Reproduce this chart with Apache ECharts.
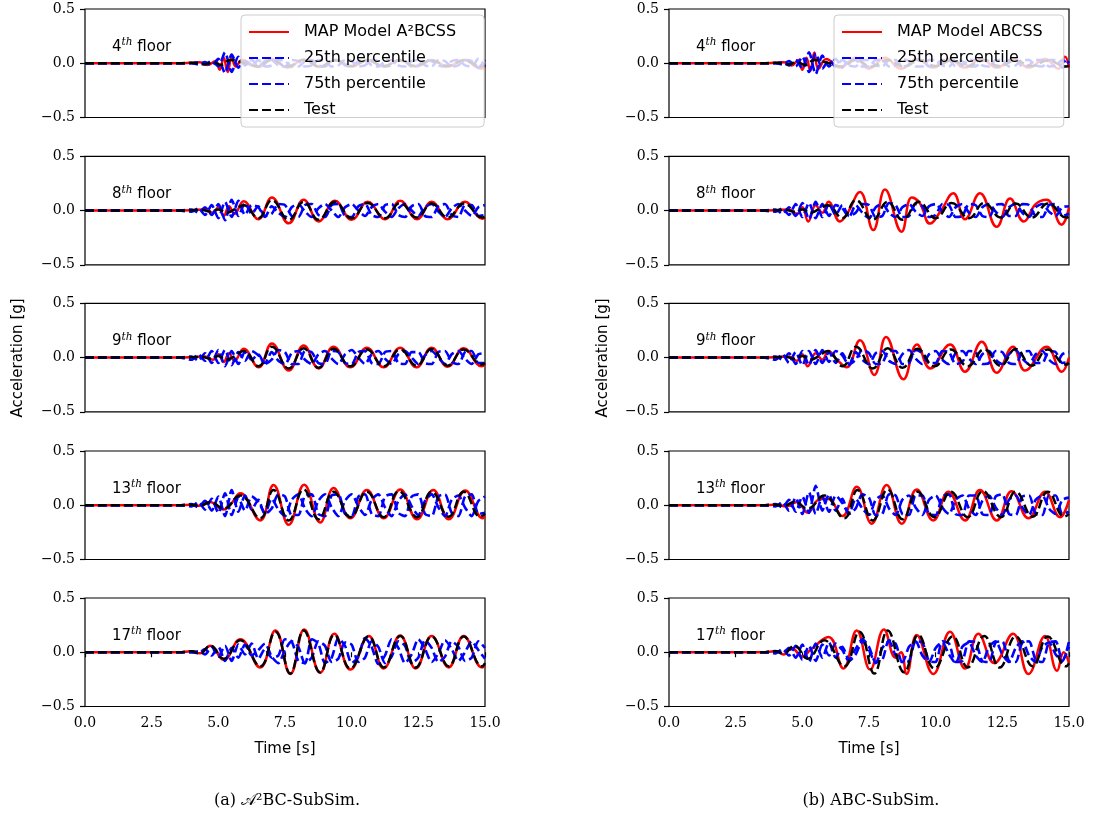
<!DOCTYPE html>
<html><head><meta charset="utf-8">
<script src="https://cdn.jsdelivr.net/npm/echarts@6/dist/echarts.min.js"></script>
<style>html,body{margin:0;padding:0;background:#fff}#c{width:1094px;height:819px}</style>
</head><body><div id="c"></div>
<script>
// ---------------- DATA ----------------
const floors = ['4', '8', '9', '13', '17'];
const mapNames = ['MAP Model A\u00b2BCSS', 'MAP Model ABCSS'];
const p25Name = '25th percentile';
const p75Name = '75th percentile';
const testName = 'Test';
const xTicks = [0, 2.5, 5, 7.5, 10, 12.5, 15];
const xTickLabels = ['0.0', '2.5', '5.0', '7.5', '10.0', '12.5', '15.0'];
const yTicks = [-0.5, 0, 0.5];
const yTickLabels = ['\u22120.5', '0.0', '0.5'];

// measured test signal (same for both columns), [time, accel]
const test4 = [[0,0],[3.5,0],[4.0,0.005],[4.5,-0.01],[4.8,0.01],[5.1,-0.015],[5.45,0.03],[6.0,0.0],[6.5,-0.03],[7.0,0.03],[7.6,-0.03],[8.2,0.03],[8.8,-0.03],[9.4,0.025],[10.0,-0.025],[10.6,0.025],[11.2,-0.025],[11.8,0.025],[12.4,-0.025],[13.0,0.025],[13.6,-0.025],[14.2,0.025],[14.9,-0.03],[15,-0.02]];
const test8 = [[0,0],[3.5,0],[4.0,0.003],[4.4,0.005],[4.7,-0.01],[5.0,0.01],[5.3,-0.02],[5.6,0.01],[5.95,0.05],[6.5,-0.07],[7.01,0.095],[7.64,-0.085],[8.2,0.08],[8.76,-0.085],[9.37,0.08],[10.0,-0.07],[10.6,0.07],[11.25,-0.07],[11.82,0.07],[12.45,-0.065],[13.0,0.066],[13.6,-0.065],[14.22,0.066],[14.9,-0.065],[15,-0.055]];
const test9 = [[0,0],[3.5,0],[4.0,0.003],[4.4,0.005],[4.7,-0.01],[5.0,0.015],[5.3,-0.02],[5.6,0.01],[5.95,0.06],[6.51,-0.08],[7.01,0.1],[7.64,-0.1],[8.2,0.085],[8.76,-0.095],[9.32,0.08],[9.95,-0.08],[10.57,0.075],[11.2,-0.08],[11.82,0.075],[12.43,-0.075],[13.0,0.078],[13.6,-0.075],[14.2,0.075],[14.88,-0.065],[15,-0.05]];
const test13 = [[0,0],[3.5,0],[4.0,0.005],[4.3,-0.005],[4.7,0.03],[5.2,-0.03],[5.82,0.09],[6.57,-0.12],[7.07,0.14],[7.64,-0.14],[8.2,0.145],[8.76,-0.13],[9.32,0.125],[9.95,-0.11],[10.57,0.125],[11.2,-0.11],[11.77,0.13],[12.45,-0.11],[13.0,0.125],[13.64,-0.105],[14.2,0.125],[14.83,-0.105],[15,-0.08]];
const test17 = [[0,0],[3.5,0],[4.0,0.01],[4.3,-0.01],[4.7,0.06],[5.2,-0.06],[5.82,0.11],[6.57,-0.13],[7.14,0.19],[7.7,-0.195],[8.2,0.2],[8.82,-0.185],[9.35,0.16],[9.95,-0.15],[10.64,0.145],[11.2,-0.14],[11.82,0.15],[12.4,-0.14],[13.0,0.145],[13.64,-0.13],[14.2,0.145],[14.89,-0.13],[15,-0.1]];

// MAP model A2BCSS (left column)
const mapL4 = [[0,0],[3.5,0],[4.0,0.005],[4.3,0.01],[4.6,-0.015],[4.9,0.02],[5.05,-0.06],[5.2,0.05],[5.35,-0.08],[5.5,0.06],[5.65,-0.03],[5.9,0.03],[6.5,-0.035],[7.0,0.04],[7.6,-0.04],[8.2,0.035],[8.8,-0.035],[9.4,0.03],[10.0,-0.03],[10.6,0.03],[11.2,-0.03],[11.8,0.03],[12.4,-0.03],[13.0,0.03],[13.6,-0.03],[14.2,0.03],[14.85,-0.05],[15,-0.03]];
const mapL8 = [[0,0],[3.5,0],[4.0,0.003],[4.5,0.01],[4.8,-0.02],[5.0,0.03],[5.2,-0.05],[5.4,0.04],[5.6,-0.03],[5.95,0.085],[6.5,-0.08],[7.01,0.12],[7.64,-0.118],[8.2,0.1],[8.76,-0.1],[9.37,0.09],[10.0,-0.085],[10.6,0.08],[11.25,-0.08],[11.82,0.09],[12.45,-0.08],[13.0,0.08],[13.6,-0.08],[14.25,0.08],[14.9,-0.075],[15,-0.06]];
const mapL9 = [[0,0],[3.5,0],[4.0,0.003],[4.5,0.01],[4.8,-0.02],[5.0,0.03],[5.2,-0.04],[5.4,0.04],[5.6,-0.03],[5.95,0.08],[6.51,-0.09],[7.01,0.13],[7.64,-0.12],[8.2,0.11],[8.76,-0.1],[9.32,0.1],[9.95,-0.09],[10.57,0.09],[11.2,-0.09],[11.82,0.09],[12.43,-0.09],[13.0,0.09],[13.6,-0.085],[14.2,0.085],[14.88,-0.08],[15,-0.06]];
const mapL13 = [[0,0],[3.5,0],[4.0,0.005],[4.3,-0.005],[4.7,0.03],[5.0,-0.02],[5.2,-0.04],[5.5,0.02],[5.82,0.11],[6.57,-0.14],[7.07,0.186],[7.64,-0.18],[8.22,0.19],[8.82,-0.16],[9.32,0.16],[9.95,-0.12],[10.57,0.14],[11.2,-0.12],[11.82,0.145],[12.45,-0.13],[13.06,0.14],[13.64,-0.13],[14.26,0.135],[14.92,-0.12],[15,-0.1]];
const mapL17 = [[0,0],[3.5,0],[4.0,0.01],[4.3,-0.01],[4.7,0.06],[5.2,-0.07],[5.82,0.12],[6.57,-0.14],[7.14,0.2],[7.7,-0.2],[8.22,0.21],[8.82,-0.19],[9.35,0.17],[9.95,-0.16],[10.64,0.15],[11.2,-0.15],[11.82,0.155],[12.4,-0.15],[13.0,0.15],[13.64,-0.14],[14.2,0.15],[14.89,-0.14],[15,-0.12]];

// MAP model ABCSS (right column)
const mapR4 = [[0,0],[3.5,0],[4.0,0.005],[4.3,0.01],[4.6,-0.02],[4.85,0.03],[5.0,-0.06],[5.15,0.05],[5.3,-0.07],[5.45,0.1],[5.6,-0.05],[5.9,0.04],[6.4,-0.04],[7.0,0.05],[7.5,-0.05],[8.1,0.05],[8.7,-0.05],[9.3,0.04],[9.9,-0.04],[10.5,0.04],[11.1,-0.04],[11.7,0.04],[12.3,-0.04],[12.9,0.04],[13.5,-0.04],[14.1,0.04],[14.6,-0.05],[14.85,0.06],[15,-0.04]];
const mapR8 = [[0,0],[3.5,0],[4.0,0.003],[4.5,0.01],[4.8,-0.03],[5.0,0.03],[5.22,-0.1],[5.5,0.05],[5.75,-0.02],[5.98,0.08],[6.41,-0.1],[6.7,-0.02],[7.16,0.17],[7.66,-0.18],[8.1,0.195],[8.72,-0.195],[9.1,0.12],[9.4,0.07],[9.79,-0.12],[10.2,0.0],[10.66,0.16],[11.1,-0.08],[11.66,0.16],[12.29,-0.15],[12.79,0.11],[13.3,-0.1],[13.75,0.06],[14.16,0.1],[14.72,-0.13],[15,0.03]];
const mapR9 = [[0,0],[3.5,0],[4.0,0.003],[4.5,0.01],[4.8,-0.03],[5.0,0.03],[5.2,-0.08],[5.5,0.04],[5.75,-0.02],[5.98,0.06],[6.3,-0.02],[6.66,-0.09],[7.16,0.16],[7.7,-0.16],[8.14,0.19],[8.79,-0.2],[9.3,0.12],[9.8,-0.1],[10.54,0.12],[11.1,-0.13],[11.73,0.145],[12.29,-0.14],[12.9,0.1],[13.35,-0.12],[14.16,0.1],[14.73,-0.13],[15,0.0]];
const mapR13 = [[0,0],[3.5,0],[4.0,0.005],[4.4,-0.01],[4.8,0.03],[5.2,-0.07],[5.6,0.05],[5.95,0.06],[6.5,-0.1],[7.04,0.17],[7.6,-0.17],[8.16,0.186],[8.73,-0.17],[9.29,0.145],[9.91,-0.14],[10.48,0.125],[11.1,-0.14],[11.66,0.14],[12.29,-0.14],[12.85,0.13],[13.48,-0.12],[14.1,0.125],[14.66,-0.11],[15,0.05]];
const mapR17 = [[0,0],[3.5,0],[4.0,0.01],[4.3,-0.02],[4.6,0.04],[5.0,-0.04],[5.3,0.02],[5.98,0.14],[6.54,-0.15],[7.04,0.2],[7.54,-0.16],[8.06,0.21],[8.5,-0.05],[8.7,0.0],[8.91,-0.2],[9.29,0.16],[9.91,-0.2],[10.54,0.19],[11.1,-0.15],[11.6,0.17],[12.2,-0.1],[12.9,0.17],[13.48,-0.2],[14.1,0.15],[14.55,-0.17],[14.8,0.0],[15,-0.1]];

// percentile sample times
const tP = [0,3.5,4.0,4.25,4.5,4.75,5.0,5.25,5.5,5.75,6.0,6.25,6.5,6.75,7.0,7.25,7.5,7.75,8.0,8.25,8.5,8.75,9.0,9.25,9.5,9.75,10.0,10.25,10.5,10.75,11.0,11.25,11.5,11.75,12.0,12.25,12.5,12.75,13.0,13.25,13.5,13.75,14.0,14.25,14.5,14.75,15.0];
// 25th / 75th percentile, left column
const L4a = [0,0,0.00,0.01,-0.01,0.02,-0.03,0.10,-0.08,0.06,-0.02,0.03,-0.03,0.02,0.03,-0.02,-0.03,0.03,0.02,-0.03,-0.02,0.03,0.02,-0.03,-0.02,0.03,0.02,-0.03,-0.02,0.03,0.02,-0.03,-0.02,0.03,0.02,-0.03,-0.02,0.03,0.02,-0.02,-0.03,0.02,0.03,-0.02,-0.03,0.04,-0.03];
const L4b = [0,0,0.00,-0.01,0.01,-0.02,0.04,-0.09,0.08,-0.04,0.02,-0.02,0.03,-0.03,-0.02,0.03,0.02,-0.03,-0.03,0.02,0.03,-0.02,-0.03,0.02,0.03,-0.02,-0.03,0.02,0.03,-0.02,-0.03,0.02,0.03,-0.02,-0.03,0.02,0.03,-0.02,-0.03,0.03,0.02,-0.03,-0.02,0.03,0.02,-0.04,0.03];
const L8a = [0,0,0.01,-0.02,0.03,-0.04,0.06,-0.09,0.10,-0.05,0.07,-0.03,0.04,-0.05,-0.03,0.06,0.05,-0.05,-0.06,0.05,0.06,-0.04,-0.06,0.05,0.06,-0.05,-0.06,0.04,0.06,-0.04,-0.06,0.05,0.06,-0.04,-0.06,0.04,0.06,-0.05,-0.06,0.04,0.06,-0.04,-0.06,0.05,0.05,-0.05,-0.04];
const L8b = [0,0,-0.01,0.02,-0.04,0.05,-0.07,0.08,-0.06,0.09,-0.04,0.05,0.03,-0.06,0.04,-0.02,-0.06,0.03,0.06,-0.01,-0.06,0.02,0.06,0.00,-0.06,0.03,0.06,0.00,-0.05,0.03,0.06,-0.01,-0.06,0.02,0.06,0.00,-0.05,0.03,0.06,-0.01,-0.06,0.02,0.06,0.00,-0.05,0.03,0.05];
const L9a = [0,0,0.01,-0.03,0.04,-0.05,0.07,-0.08,0.06,-0.06,0.05,-0.02,0.03,-0.06,-0.02,0.07,0.05,-0.06,-0.06,0.06,0.05,-0.05,-0.06,0.06,0.05,-0.05,-0.06,0.05,0.06,-0.05,-0.06,0.05,0.06,-0.05,-0.06,0.05,0.05,-0.05,-0.06,0.05,0.06,-0.04,-0.06,0.05,0.06,-0.05,-0.05];
const L9b = [0,0,-0.02,0.03,-0.03,0.06,-0.05,0.07,-0.07,0.05,-0.03,0.06,0.02,-0.05,0.05,-0.03,-0.06,0.04,0.06,-0.02,-0.06,0.03,0.06,-0.01,-0.06,0.03,0.07,0.00,-0.06,0.03,0.06,-0.01,-0.06,0.03,0.06,0.00,-0.06,0.02,0.06,0.00,-0.06,0.03,0.06,-0.01,-0.06,0.03,0.04];
const L13a = [0,0,0.01,-0.02,0.04,-0.05,0.08,-0.10,0.14,-0.06,0.09,-0.04,0.05,-0.08,-0.03,0.10,0.08,-0.09,-0.09,0.09,0.10,-0.08,-0.10,0.09,0.10,-0.08,-0.10,0.08,0.10,-0.08,-0.10,0.08,0.10,-0.07,-0.10,0.08,0.10,-0.08,-0.10,0.08,0.10,-0.07,-0.10,0.08,0.10,-0.08,-0.07];
const L13b = [0,0,-0.01,0.03,-0.04,0.06,-0.07,0.11,-0.09,0.07,-0.05,0.08,0.03,-0.07,0.06,-0.04,-0.10,0.05,0.10,-0.03,-0.10,0.04,0.10,-0.02,-0.10,0.04,0.10,-0.01,-0.09,0.05,0.10,-0.02,-0.10,0.04,0.10,-0.01,-0.09,0.04,0.10,-0.02,-0.10,0.05,0.09,-0.02,-0.10,0.04,0.08];
const L17a = [0,0,0.00,0.01,-0.02,0.05,-0.04,0.06,-0.08,0.07,-0.02,0.08,-0.06,0.03,-0.05,-0.03,0.12,0.10,-0.08,-0.10,0.12,0.08,-0.10,-0.05,0.13,0.06,-0.10,-0.04,0.13,0.05,-0.11,-0.03,0.12,0.04,-0.10,-0.02,0.12,0.03,-0.09,-0.01,0.11,0.03,-0.08,0.00,0.10,0.02,-0.06];
const L17b = [0,0,0.00,-0.01,0.03,-0.03,0.05,-0.08,0.04,-0.05,0.07,-0.03,0.02,0.08,-0.04,-0.10,0.02,0.10,0.05,-0.10,-0.05,0.10,0.06,-0.09,-0.06,0.09,0.07,-0.09,-0.05,0.10,0.05,-0.10,-0.04,0.10,0.06,-0.10,-0.05,0.11,0.04,-0.09,-0.04,0.10,0.05,-0.08,-0.05,0.10,0.04];
// 25th / 75th percentile, right column
const R4a = [0,0,0.00,0.01,-0.02,0.03,-0.05,0.10,-0.10,0.07,-0.03,0.04,-0.04,0.03,0.03,-0.03,-0.03,0.03,0.03,-0.03,-0.02,0.04,0.02,-0.03,-0.03,0.03,0.03,-0.02,-0.03,0.03,0.02,-0.03,-0.03,0.03,0.02,-0.03,-0.02,0.03,0.03,-0.03,-0.02,0.03,0.03,-0.03,-0.02,0.03,-0.02];
const R4b = [0,0,0.00,-0.01,0.02,-0.03,0.06,-0.08,0.09,-0.05,0.03,-0.03,0.03,-0.02,-0.03,0.03,0.03,-0.02,-0.03,0.03,0.03,-0.03,-0.02,0.03,0.03,-0.03,-0.02,0.03,0.03,-0.03,-0.02,0.03,0.03,-0.02,-0.03,0.03,0.03,-0.03,-0.02,0.03,0.03,-0.02,-0.03,0.03,0.03,-0.04,0.02];
const R8a = [0,0,0.01,-0.03,0.03,-0.05,0.07,-0.08,0.08,-0.06,0.06,-0.04,0.05,-0.05,-0.02,0.06,0.05,-0.06,-0.05,0.07,0.05,-0.06,-0.05,0.06,0.04,-0.06,-0.04,0.06,0.05,-0.06,-0.05,0.06,0.05,-0.05,-0.06,0.05,0.06,-0.05,-0.05,0.06,0.05,-0.05,-0.06,0.05,0.06,-0.05,-0.03];
const R8b = [0,0,-0.01,0.02,-0.04,0.06,-0.06,0.07,-0.07,0.06,-0.05,0.05,0.02,-0.06,0.05,-0.02,-0.07,0.03,0.06,-0.02,-0.06,0.03,0.06,-0.01,-0.05,0.04,0.06,-0.01,-0.06,0.03,0.06,-0.02,-0.06,0.03,0.06,-0.01,-0.06,0.03,0.06,-0.02,-0.06,0.03,0.06,-0.01,-0.05,0.03,0.04];
const R9a = [0,0,0.01,-0.02,0.04,-0.06,0.06,-0.07,0.07,-0.05,0.05,-0.05,0.04,-0.06,-0.02,0.07,0.04,-0.06,-0.05,0.06,0.06,-0.06,-0.05,0.07,0.04,-0.05,-0.05,0.06,0.05,-0.06,-0.04,0.06,0.05,-0.06,-0.05,0.06,0.05,-0.05,-0.06,0.05,0.06,-0.05,-0.05,0.06,0.05,-0.05,-0.04];
const R9b = [0,0,-0.02,0.03,-0.05,0.05,-0.07,0.06,-0.06,0.07,-0.04,0.06,0.02,-0.07,0.05,-0.02,-0.06,0.04,0.06,-0.03,-0.06,0.03,0.07,-0.01,-0.06,0.03,0.06,-0.02,-0.06,0.04,0.06,-0.01,-0.06,0.03,0.06,-0.02,-0.06,0.03,0.07,-0.01,-0.06,0.03,0.06,-0.02,-0.06,0.03,0.05];
const R13a = [0,0,0.01,-0.02,0.05,-0.06,0.08,-0.07,0.18,-0.05,0.10,-0.05,0.06,-0.08,-0.03,0.10,0.07,-0.09,-0.08,0.10,0.09,-0.08,-0.09,0.09,0.09,-0.08,-0.09,0.08,0.10,-0.08,-0.09,0.09,0.09,-0.08,-0.09,0.08,0.10,-0.08,-0.09,0.08,0.09,-0.08,-0.09,0.09,0.09,-0.08,-0.06];
const R13b = [0,0,-0.01,0.03,-0.05,0.07,-0.08,0.12,-0.08,0.08,-0.06,0.09,0.02,-0.08,0.06,-0.03,-0.09,0.05,0.09,-0.03,-0.09,0.05,0.09,-0.02,-0.09,0.05,0.09,-0.02,-0.08,0.05,0.09,-0.03,-0.09,0.04,0.09,-0.02,-0.09,0.05,0.09,-0.02,-0.09,0.05,0.09,-0.03,-0.08,0.05,0.07];
const R17a = [0,0,0.01,-0.01,0.04,-0.05,0.07,-0.09,0.08,-0.05,0.09,-0.05,0.05,-0.07,0.03,0.12,0.05,-0.09,-0.07,0.11,0.08,-0.09,-0.08,0.10,0.09,-0.08,-0.09,0.10,0.08,-0.09,-0.08,0.10,0.09,-0.08,-0.09,0.09,0.10,-0.08,-0.09,0.09,0.10,-0.07,-0.09,0.09,0.10,-0.08,0.05];
const R17b = [0,0,-0.01,0.03,-0.03,0.06,-0.07,0.06,-0.08,0.07,-0.03,0.08,0.02,-0.08,-0.02,0.10,0.02,-0.10,0.04,0.10,-0.03,-0.09,0.05,0.10,-0.03,-0.09,0.04,0.09,-0.02,-0.10,0.05,0.09,-0.03,-0.09,0.05,0.10,-0.02,-0.09,0.04,0.10,-0.03,-0.09,0.05,0.09,-0.02,-0.08,0.10];

// ---------------- CHART ----------------
const tests = [test4, test8, test9, test13, test17];
const maps = [[mapL4, mapL8, mapL9, mapL13, mapL17], [mapR4, mapR8, mapR9, mapR13, mapR17]];
const p25s = [[L4a, L8a, L9a, L13a, L17a], [R4a, R8a, R9a, R13a, R17a]];
const p75s = [[L4b, L8b, L9b, L13b, L17b], [R4b, R8b, R9b, R13b, R17b]];

const rowTop = [9, 156.3, 303.3, 451, 598];
const rowH = 108.5;
const colLeft = [85, 669];
const colW = 400;
const SERIF = 'DejaVu Serif';
const SANS = 'DejaVu Sans';
const DASH = [9, 4];

const grids = [], xAxes = [], yAxes = [], series = [], graphics = [];
let gi = 0;
for (let c = 0; c < 2; c++) {
  for (let r = 0; r < 5; r++) {
    grids.push({left: colLeft[c], top: rowTop[r], width: colW, height: rowH, show: true,
      borderColor: '#000', borderWidth: 1.2, backgroundColor: '#fff', containLabel: false});
    const bottom = r === 4;
    xAxes.push({type: 'value', gridIndex: gi, min: 0, max: 15, interval: 2.5,
      axisLine: {show: false}, splitLine: {show: false},
      axisTick: {show: bottom, inside: false, length: 5, lineStyle: {color: '#000', width: 1.2}},
      axisLabel: {show: bottom, margin: 10, color: '#000', fontFamily: SERIF, fontSize: 14,
        formatter: v => xTickLabels[xTicks.indexOf(v)]}});
    yAxes.push({type: 'value', gridIndex: gi, min: -0.5, max: 0.5, interval: 0.5,
      axisLine: {show: false}, splitLine: {show: false},
      axisTick: {show: true, inside: false, length: 5, lineStyle: {color: '#000', width: 1.2}},
      axisLabel: {show: true, margin: 10, color: '#000', fontFamily: SERIF, fontSize: 14,
        formatter: v => yTickLabels[yTicks.indexOf(v)]}});
    const common = {type: 'line', xAxisIndex: gi, yAxisIndex: gi, symbol: 'none', showSymbol: false,
      animation: false, silent: true, clip: true};
    series.push(Object.assign({}, common, {name: mapNames[c], data: maps[c][r], smooth: 0.45,
      lineStyle: {color: '#ff0000', width: 2.5}, itemStyle: {color: '#ff0000'}}));
    series.push(Object.assign({}, common, {name: p25Name, data: tP.map((t, k) => [t, p25s[c][r][k]]), smooth: 0.25,
      lineStyle: {color: '#0000ff', width: 2.6, type: DASH}, itemStyle: {color: '#0000ff'}}));
    series.push(Object.assign({}, common, {name: p75Name, data: tP.map((t, k) => [t, p75s[c][r][k]]), smooth: 0.25,
      lineStyle: {color: '#0000ff', width: 2.6, type: DASH}, itemStyle: {color: '#0000ff'}}));
    series.push(Object.assign({}, common, {name: testName, data: tests[r], smooth: 0.45,
      lineStyle: {color: '#000000', width: 2.5, type: DASH}, itemStyle: {color: '#000000'}}));
    // floor label
    graphics.push({type: 'text', x: colLeft[c] + 27, y: rowTop[r] + 38, z: 10,
      style: {text: '{n|' + floors[r] + '}{s|th}{f| floor}', verticalAlign: 'middle',
        rich: {
          n: {fontFamily: SANS, fontSize: 15, fill: '#000', lineHeight: 20, verticalAlign: 'middle'},
          s: {fontFamily: SERIF, fontStyle: 'italic', fontSize: 10.5, fill: '#000', lineHeight: 12, verticalAlign: 'top'},
          f: {fontFamily: SANS, fontSize: 15, fill: '#000', lineHeight: 20, verticalAlign: 'middle'}
        }}});
    gi++;
  }
}

// axis titles and captions
[18, 603].forEach(x => graphics.push({type: 'text', x: x, y: 358, rotation: Math.PI / 2,
  style: {text: 'Acceleration [g]', fontFamily: SANS, fontSize: 15, fill: '#000', align: 'center', verticalAlign: 'middle'}}));
[285, 869].forEach(x => graphics.push({type: 'text', x: x, y: 749,
  style: {text: 'Time [s]', fontFamily: SANS, fontSize: 15, fill: '#000', align: 'center', verticalAlign: 'middle'}}));
graphics.push({type: 'text', x: 287, y: 801,
  style: {text: '(a) \ud835\udc9c\u00b2BC-SubSim.', fontFamily: SERIF, fontSize: 16, fill: '#000', align: 'center', verticalAlign: 'middle'}});
graphics.push({type: 'text', x: 871, y: 801,
  style: {text: '(b) ABC-SubSim.', fontFamily: SERIF, fontSize: 16, fill: '#000', align: 'center', verticalAlign: 'middle'}});

function legendFor(c, left, padRight) {
  return {show: true, orient: 'vertical', left: left, top: 15,
    data: [mapNames[c], p25Name, p75Name, testName],
    backgroundColor: 'rgba(255,255,255,0.8)', borderColor: '#cccccc', borderWidth: 1, borderRadius: 4,
    padding: [8, padRight, 8, 7], itemWidth: 40, itemHeight: 18, itemGap: 8, selectedMode: false,
    itemStyle: {opacity: 0, borderWidth: 0},
    textStyle: {fontFamily: SANS, fontSize: 16, color: '#000', lineHeight: 18, padding: [0, 0, 0, 10]}};
}

const chart = echarts.init(document.getElementById('c'), null, {renderer: 'canvas'});
chart.setOption({
  backgroundColor: '#ffffff',
  animation: false,
  grid: grids, xAxis: xAxes, yAxis: yAxes, series: series,
  legend: [legendFor(0, 241, 28), legendFor(1, 834, 21)],
  graphic: graphics
});
</script></body></html>
